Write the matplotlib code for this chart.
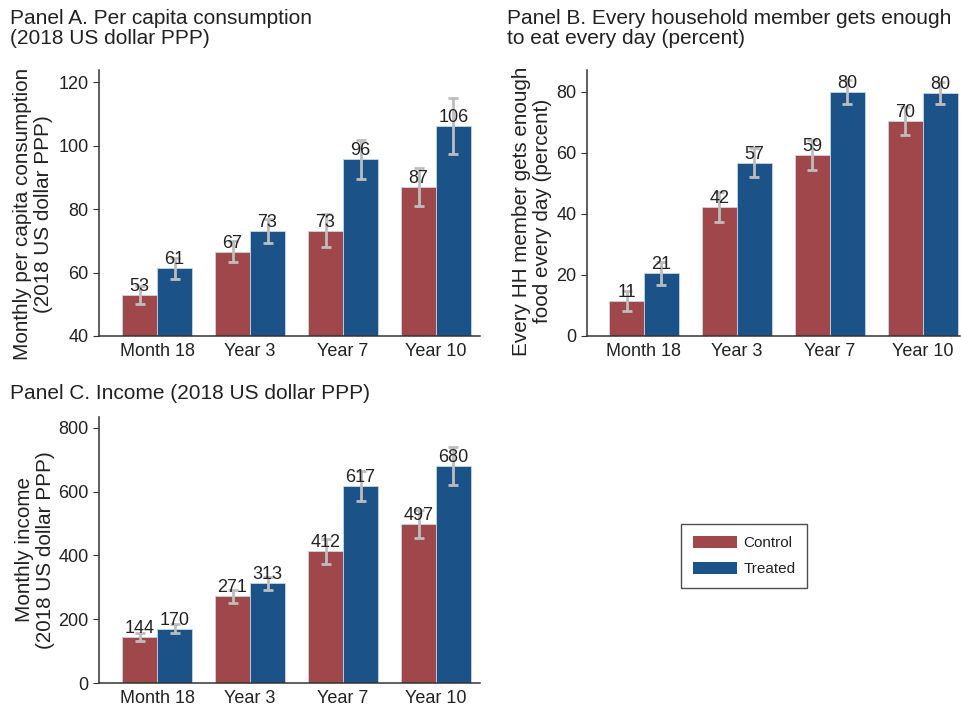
import numpy as np
import matplotlib
matplotlib.use('Agg')
import matplotlib.pyplot as plt
from matplotlib.patches import Patch

plt.rcParams['font.family'] = ['Liberation Sans', 'DejaVu Sans']

# ==============================
# Datos
# ==============================
periods = ['Month 18', 'Year 3', 'Year 7', 'Year 10']

cons_control = [53.0, 66.6, 73.1, 87.0]
cons_treated = [61.3, 73.2, 95.8, 106.2]
cons_control_lo = [50.1, 63.4, 67.9, 81.0]
cons_control_hi = [55.9, 69.8, 78.3, 93.0]
cons_treated_lo = [58.0, 69.4, 89.5, 97.2]
cons_treated_hi = [64.6, 77.0, 101.9, 115.0]

food_control = [11.5, 42.2, 59.2, 70.5]
food_treated = [20.5, 56.8, 80.0, 79.7]
food_control_lo = [8.2, 37.3, 54.3, 66.0]
food_control_hi = [14.8, 47.1, 64.1, 75.0]
food_treated_lo = [16.7, 52.1, 76.1, 76.0]
food_treated_hi = [24.4, 61.5, 83.9, 83.4]

inc_control = [144.5, 271.5, 412.5, 497.5]
inc_treated = [170.5, 313.5, 617.5, 680.5]
inc_control_lo = [132.8, 251.0, 374.4, 455.0]
inc_control_hi = [157.0, 292.0, 451.0, 541.0]
inc_treated_lo = [156.9, 292.8, 571.0, 620.0]
inc_treated_hi = [185.0, 333.0, 665.0, 741.5]

labels_cons = [['53', '67', '73', '87'], ['61', '73', '96', '106']]
labels_food = [['11', '42', '59', '70'], ['21', '57', '80', '80']]
labels_inc = [['144', '271', '412', '497'], ['170', '313', '617', '680']]

c_control = '#A0474C'
c_treated = '#1B5389'
c_err = '#BDBDBD'
c_text = '#222222'

W, H = 961, 706
fig = plt.figure(figsize=(W / 100, H / 100), dpi=100)


def px_axes(left, right, top, bottom):
    return fig.add_axes([left / W, (H - bottom) / H, (right - left) / W, (bottom - top) / H])


def draw_panel(ax, ctrl, trt, c_lo, c_hi, t_lo, t_hi, labels, ylim, yticks, xlim):
    x = np.arange(len(periods))
    w = 0.376
    for vals, lo, hi, lab, off, col in [(ctrl, c_lo, c_hi, labels[0], -w / 2, c_control),
                                        (trt, t_lo, t_hi, labels[1], w / 2, c_treated)]:
        vals = np.array(vals)
        ax.bar(x + off, vals - ylim[0], w, bottom=ylim[0], color=col,
               edgecolor='#C9D6E3', linewidth=0.6, zorder=2)
        err = [vals - np.array(lo), np.array(hi) - vals]
        ax.errorbar(x + off, vals, yerr=err, fmt='none', ecolor=c_err,
                    elinewidth=2, capsize=3.5, capthick=2, zorder=3)
        for xi, v, t in zip(x + off, vals, lab):
            ax.text(xi, v, t, ha='center', va='bottom',
                    fontsize=13, color=c_text, zorder=4)
    ax.set_xticks(x)
    ax.set_xticklabels(periods)
    ax.set_yticks(yticks)
    ax.set_ylim(*ylim)
    ax.set_xlim(*xlim)
    for s in ['top', 'right']:
        ax.spines[s].set_visible(False)
    for s in ['left', 'bottom']:
        ax.spines[s].set_color('#333333')
        ax.spines[s].set_linewidth(1.1)
    ax.tick_params(axis='x', length=0, labelsize=13, colors=c_text, pad=5)
    ax.tick_params(axis='y', length=4, labelsize=13, colors=c_text, color='#333333')


# Panel A
axA = px_axes(99, 480, 70, 336)
draw_panel(axA, cons_control, cons_treated, cons_control_lo, cons_control_hi,
           cons_treated_lo, cons_treated_hi, labels_cons, (40, 123.8),
           [40, 60, 80, 100, 120], (-0.624, 3.473))
axA.set_ylabel('Monthly per capita consumption\n(2018 US dollar PPP)', fontsize=14.9,
               color=c_text, linespacing=1.12)
axA.yaxis.set_label_coords(-0.12, 0.46)

# Panel B
axB = px_axes(587, 960, 70, 336)
draw_panel(axB, food_control, food_treated, food_control_lo, food_control_hi,
           food_treated_lo, food_treated_hi, labels_food, (0, 87.2),
           [0, 20, 40, 60, 80], (-0.613, 3.40))
axB.set_ylabel('Every HH member gets enough\nfood every day (percent)', fontsize=14.9,
               color=c_text, linespacing=1.12)
axB.yaxis.set_label_coords(-0.094, 0.47)

# Panel C
axC = px_axes(99, 480, 417, 683)
draw_panel(axC, inc_control, inc_treated, inc_control_lo, inc_control_hi,
           inc_treated_lo, inc_treated_hi, labels_inc, (0, 834),
           [0, 200, 400, 600, 800], (-0.624, 3.473))
axC.set_ylabel('Monthly income\n(2018 US dollar PPP)', fontsize=14.9,
               color=c_text, linespacing=1.12)
axC.yaxis.set_label_coords(-0.115, 0.5)

# Titulos
fig.text(10 / W, 1 - 9 / H, 'Panel A. Per capita consumption\n(2018 US dollar PPP)',
         ha='left', va='top', fontsize=15, color=c_text, linespacing=1.1)
fig.text(507 / W, 1 - 9 / H, 'Panel B. Every household member gets enough\nto eat every day (percent)',
         ha='left', va='top', fontsize=15, color=c_text, linespacing=1.1)
fig.text(10 / W, 1 - 384 / H, 'Panel C. Income (2018 US dollar PPP)',
         ha='left', va='top', fontsize=15, color=c_text)

# Leyenda
handles = [Patch(facecolor=c_control, label='Control'),
           Patch(facecolor=c_treated, label='Treated')]
leg = fig.legend(handles=handles, loc='center', bbox_to_anchor=(744 / W, 1 - 556 / H),
                 fontsize=11, frameon=True, fancybox=False, handlelength=2.9,
                 handleheight=0.9, borderpad=0.75, labelspacing=0.75, handletextpad=0.4)
leg.get_frame().set_edgecolor('#222222')
leg.get_frame().set_linewidth(1.0)
for t in leg.get_texts():
    t.set_color(c_text)

fig.savefig('out.png', dpi=100)
